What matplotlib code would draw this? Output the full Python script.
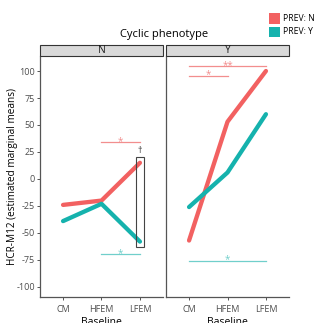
import numpy as np
import matplotlib
matplotlib.use("Agg")
import matplotlib.pyplot as plt
from matplotlib.patches import Rectangle

plt.rcParams['font.family'] = ['Open Sans', 'DejaVu Sans']

baseline = ['CM', 'HFEM', 'LFEM']
panels = ['N', 'Y']
prev_n = {'N': [-24, -20, 15], 'Y': [-57, 53, 100]}
prev_y = {'N': [-39, -23, -58], 'Y': [-26, 6, 60]}
yticks = [-100, -75, -50, -25, 0, 25, 50, 75, 100]

red = '#F26161'
teal = '#15B2AD'
red_l = '#F28E8E'
teal_l = '#70CFCB'

fig = plt.figure(figsize=(3.15, 3.23), dpi=100)
W, H = 315.0, 323.0
boxes = [(40, 163), (166, 289)]
top, bot = 56, 297


def star(ax, xs, y, txt, c):
    ax.plot(xs, [y, y], color=c, lw=0.9)
    ax.text(np.mean(xs), y - 1.5, txt, color=c, fontsize=7, ha='center', va='baseline')


x = np.arange(1, 4)
for k, p in enumerate(panels):
    x0, x1 = boxes[k]
    ax = fig.add_axes([x0 / W, 1 - bot / H, (x1 - x0) / W, (bot - top) / H])
    ax.plot(x, prev_n[p], color=red, lw=3.1, solid_capstyle='round', zorder=3)
    ax.plot(x, prev_y[p], color=teal, lw=3.1, solid_capstyle='round', zorder=3)
    ax.set_xlim(0.4, 3.6)
    ax.set_ylim(-109.3, 113.9)
    ax.set_xticks(x)
    ax.set_xticklabels(baseline, fontsize=6.5, color='#4d4d4d')
    for s in ['top', 'right']:
        ax.spines[s].set_visible(False)
    for s in ['left', 'bottom']:
        ax.spines[s].set_color('#555555')
        ax.spines[s].set_linewidth(0.9)
    ax.tick_params(axis='x', length=2.5, width=0.7, color='#555555', pad=3)
    if k == 0:
        ax.set_yticks(yticks)
        ax.set_yticklabels([str(v) for v in yticks], fontsize=6.5, color='#4d4d4d')
        ax.tick_params(axis='y', length=2.5, width=0.7, color='#555555', pad=1)
        ax.set_ylabel('HCR-M12 (estimated marginal means)', fontsize=7.2)
        ax.yaxis.set_label_coords(-22.0 / (x1 - x0), 0.5)
        star(ax, [2, 3], 34, '*', red_l)
        star(ax, [2, 3], -69.5, '*', teal_l)
        ax.add_patch(Rectangle((2.9, -63), 0.2, 83.5, fill=False, ec='#444444', lw=0.8, zorder=4))
        ax.text(3.0, 22.5, '\u2020', fontsize=6.5, ha='center', va='bottom', color='#333333')
    else:
        ax.set_yticks([])
        star(ax, [1, 3], 104.5, '**', red_l)
        star(ax, [1, 2], 95.5, '*', red_l)
        star(ax, [1, 3], -75.5, '*', teal_l)
    ax.set_xlabel('Baseline', fontsize=7.5, labelpad=2.5)
    # strip
    fig.patches.append(Rectangle((x0 / W, 1 - 56 / H), (x1 - x0) / W, 11 / H,
                                 transform=fig.transFigure, fc='#D9D9D9', ec='#333333', lw=0.8))
    fig.text((x0 + x1) / 2 / W, 1 - 50.5 / H, p, fontsize=7.5, ha='center', va='center', color='#1a1a1a')

fig.text(164 / W, 1 - 35 / H, 'Cyclic phenotype', fontsize=8, ha='center', va='center')

# legend
for i, (c, lab) in enumerate([(red, 'PREV: N'), (teal, 'PREV: Y')]):
    yy = 13.5 + i * 13.5
    fig.patches.append(Rectangle((269 / W, 1 - (yy + 10) / H), 11 / W, 10 / H,
                                 transform=fig.transFigure, fc=c, ec='none'))
    fig.text(283 / W, 1 - (yy + 5) / H, lab, fontsize=6.2, ha='left', va='center')

fig.savefig('out.png', dpi=100)
